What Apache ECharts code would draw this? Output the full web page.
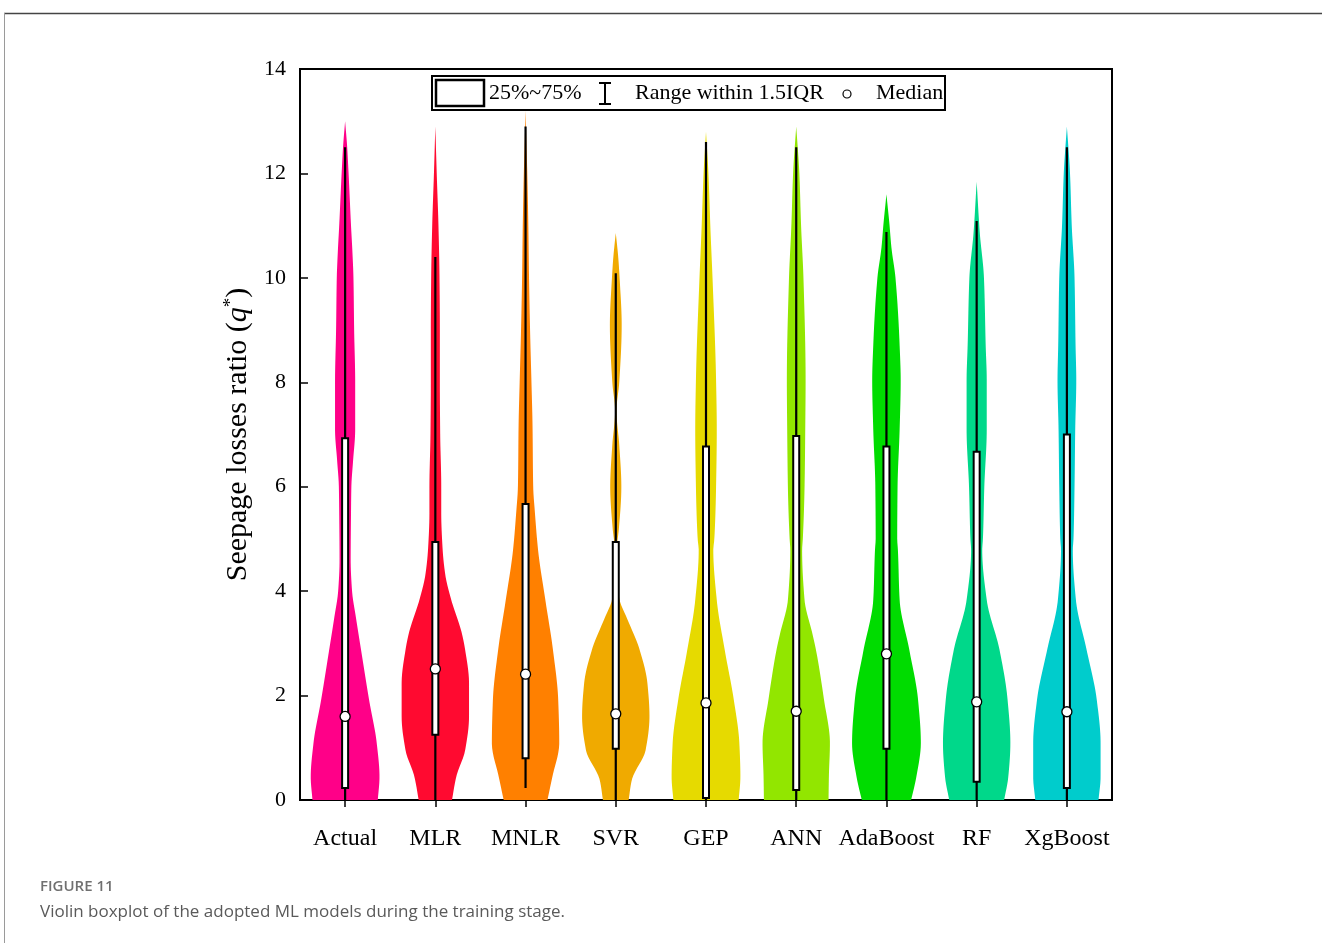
<!DOCTYPE html>
<html>
<head>
<meta charset="utf-8">
<script src="https://cdn.jsdelivr.net/npm/echarts@6/dist/echarts.min.js"></script>
<style>
  html, body { margin: 0; padding: 0; background: #fff; }
  #chart { width: 1322px; height: 943px; }
</style>
</head>
<body>
<div id="chart"></div>
<script>
// ---------- data ----------
const categories = ['Actual', 'MLR', 'MNLR', 'SVR', 'GEP', 'ANN', 'AdaBoost', 'RF', 'XgBoost'];
const yTicks = [0, 2, 4, 6, 8, 10, 12, 14];

// box statistics
const whiskerLow  = [0,    0,    0.23, 0,    0,    0,    0,    0,    0];
const q1          = [0.23, 1.25, 0.80, 0.98, 0.04, 0.19, 0.98, 0.35, 0.23];
const median      = [1.60, 2.51, 2.41, 1.65, 1.86, 1.70, 2.80, 1.88, 1.69];
const q3          = [6.93, 4.94, 5.67, 4.94, 6.77, 6.97, 6.77, 6.67, 7.00];
const whiskerHigh = [12.5, 10.4, 12.9, 10.09, 12.6, 12.5, 10.88, 11.09, 12.5];

// kernel density profiles: [value, relative density]
const densActual = [[0,0.94],[0.44,0.99],[1.09,0.91],[1.92,0.69],[2.87,0.46],[3.5,0.31],[4.0,0.2],[4.6,0.16],[5.5,0.17],[6.0,0.18],[6.5,0.23],[7.1,0.29],[8.0,0.29],[9.0,0.26],[10.0,0.24],[10.5,0.21],[11,0.17],[12,0.1],[12.5,0.06],[13.0,0]];
const densMLR = [[0,0.48],[0.44,0.6],[0.96,0.86],[1.6,0.97],[2.24,0.97],[2.87,0.86],[3.2,0.76],[3.83,0.46],[4.3,0.29],[4.8,0.21],[5.5,0.17],[6.0,0.17],[7.0,0.14],[8.0,0.13],[9.0,0.13],[10.0,0.12],[11,0.09],[12,0.04],[12.9,0]];
const densMNLR = [[0,0.63],[0.44,0.77],[1.09,0.97],[1.92,0.94],[2.87,0.79],[3.83,0.57],[4.79,0.36],[5.5,0.27],[6.0,0.22],[7.2,0.2],[8.0,0.17],[9.0,0.13],[10.0,0.1],[11.0,0.08],[12.0,0.05],[12.7,0.02],[13.2,0]];
const densSVR = [[0,0.37],[0.38,0.46],[0.96,0.86],[1.6,0.97],[2.24,0.91],[2.87,0.69],[3.5,0.31],[3.83,0.11],[4.2,0.04],[4.5,0.015],[4.9,0.04],[5.2,0.09],[6.0,0.16],[6.8,0.1],[7.45,0.02],[8.0,0.1],[9.1,0.17],[10.0,0.11],[10.4,0.07],[10.86,0]];
const densGEP = [[0,0.94],[0.44,0.99],[1.09,0.96],[1.92,0.8],[2.87,0.54],[3.83,0.31],[4.79,0.21],[5.0,0.24],[6.0,0.29],[7.1,0.31],[8.04,0.29],[9.96,0.19],[10.9,0.13],[12,0.07],[12.8,0]];
const densANN = [[0,0.93],[0.44,0.94],[1.09,0.97],[1.92,0.8],[2.87,0.57],[3.2,0.46],[3.83,0.24],[4.79,0.17],[5.0,0.19],[6.0,0.24],[7.1,0.26],[8.04,0.27],[9.96,0.21],[11,0.14],[12,0.09],[12.9,0]];
const densAdaBoost = [[0,0.71],[0.44,0.86],[1.09,0.99],[1.92,0.91],[2.87,0.66],[3.83,0.38],[4.79,0.33],[5.0,0.31],[6.0,0.32],[7.1,0.38],[8.04,0.41],[8.7,0.38],[10.0,0.26],[10.6,0.14],[11.0,0.09],[11.6,0]];
const densRF = [[0,0.79],[0.44,0.91],[1.09,0.97],[1.92,0.89],[2.87,0.66],[3.83,0.29],[4.79,0.16],[5.0,0.18],[6.0,0.22],[7.1,0.29],[8.04,0.29],[8.7,0.26],[10.0,0.21],[10.86,0.09],[11.84,0]];
const densXgBoost = [[0,0.91],[0.44,0.97],[1.09,0.97],[1.92,0.86],[2.87,0.57],[3.83,0.26],[4.79,0.17],[5.0,0.19],[6.0,0.22],[7.1,0.24],[8.04,0.27],[8.7,0.25],[10.0,0.22],[11,0.14],[12,0.09],[12.9,0]];

const violinDensity = [densActual, densMLR, densMNLR, densSVR, densGEP, densANN, densAdaBoost, densRF, densXgBoost];
const violinColors = ['#FF0088', '#FF0A30', '#FF8000', '#F0AA00', '#E6DA00', '#92E600', '#00DC00', '#00D88A', '#00CCCC'];

// ---------- rendering helpers ----------
// monotone cubic (Fritsch-Carlson) evaluator for drawing a smooth outline through the read points
function monotoneCurve(xs, ys) {
  const n = xs.length;
  const dx = [], m = [];
  for (let k = 0; k < n - 1; k++) { dx.push(xs[k + 1] - xs[k]); m.push((ys[k + 1] - ys[k]) / dx[k]); }
  const t = new Array(n);
  t[0] = m[0]; t[n - 1] = m[n - 2];
  for (let k = 1; k < n - 1; k++) {
    if (m[k - 1] * m[k] <= 0) t[k] = 0;
    else {
      const w1 = 2 * dx[k] + dx[k - 1], w2 = dx[k] + 2 * dx[k - 1];
      t[k] = (w1 + w2) / (w1 / m[k - 1] + w2 / m[k]);
    }
  }
  return function (x) {
    let k = 0;
    while (k < n - 2 && x > xs[k + 1]) k++;
    const h = dx[k], s = (x - xs[k]) / h;
    const h00 = 2 * s * s * s - 3 * s * s + 1, h10 = s * s * s - 2 * s * s + s;
    const h01 = -2 * s * s * s + 3 * s * s, h11 = s * s * s - s * s;
    return h00 * ys[k] + h10 * h * t[k] + h01 * ys[k + 1] + h11 * h * t[k + 1];
  };
}

// ---------- chart ----------
const serif = 'Liberation Serif';
const chart = echarts.init(document.getElementById('chart'), null, { renderer: 'canvas' });

function renderViolin(params, api) {
  const i = params.dataIndex;
  const dens = violinDensity[i];
  const band = api.size([1, 0])[0];
  const maxHalf = band * 0.385;
  const vs = dens.map(p => p[0]), ds = dens.map(p => p[1]);
  const f = monotoneCurve(vs, ds);
  const vMin = vs[0], vMax = vs[vs.length - 1];
  const steps = 160;
  const right = [], left = [];
  for (let s = 0; s <= steps; s++) {
    const v = vMin + (vMax - vMin) * s / steps;
    const d = Math.max(0, f(v));
    const p = api.coord([i, v]);
    right.push([p[0] + d * maxHalf, p[1]]);
    left.unshift([p[0] - d * maxHalf, p[1]]);
  }
  const pts = right.concat(left);

  const cx = api.coord([i, 0])[0];
  const yLo = api.coord([i, whiskerLow[i]])[1];
  const yHi = api.coord([i, whiskerHigh[i]])[1];
  const yQ1 = api.coord([i, q1[i]])[1];
  const yQ3 = api.coord([i, q3[i]])[1];
  const yMed = api.coord([i, median[i]])[1];

  return {
    type: 'group',
    children: [
      {
        type: 'polygon',
        shape: { points: pts },
        style: { fill: violinColors[i], stroke: null }
      },
      {
        type: 'line',
        shape: { x1: cx, y1: yLo, x2: cx, y2: yHi },
        style: { stroke: '#000', lineWidth: 2.2 }
      },
      {
        type: 'rect',
        shape: { x: cx - 3, y: yQ3, width: 6, height: yQ1 - yQ3 },
        style: { fill: '#fff', stroke: '#000', lineWidth: 2 }
      },
      {
        type: 'circle',
        shape: { cx: cx, cy: yMed, r: 5 },
        style: { fill: '#fff', stroke: '#000', lineWidth: 1.3 }
      }
    ]
  };
}

const option = {
  backgroundColor: '#fff',
  animation: false,
  grid: {
    left: 300, right: 210, top: 69, bottom: 143,
    show: true, borderColor: '#000', borderWidth: 2, backgroundColor: 'transparent'
  },
  xAxis: {
    type: 'category',
    data: categories,
    boundaryGap: true,
    axisLine: { lineStyle: { color: '#000', width: 2 } },
    axisTick: { show: true, alignWithLabel: true, inside: false, length: 7, lineStyle: { color: '#000', width: 1.5 } },
    axisLabel: { color: '#000', fontFamily: serif, fontSize: 24, margin: 27, interval: 0 },
    splitLine: { show: false }
  },
  yAxis: {
    type: 'value',
    min: 0, max: 14, interval: 2,
    axisLine: { show: true, lineStyle: { color: '#000', width: 2 } },
    axisTick: { show: true, inside: true, length: 8, lineStyle: { color: '#000', width: 1.5 } },
    axisLabel: {
      color: '#000', fontFamily: serif, fontSize: 22, margin: 14,
      formatter: v => (yTicks.indexOf(v) >= 0 ? String(v) : '')
    },
    splitLine: { show: false },
    name: '{a|Seepage losses ratio (}{q|q}{s|*}{a|)}',
    nameLocation: 'middle',
    nameGap: 43,
    nameRotate: 90,
    nameTextStyle: {
      color: '#000',
      rich: {
        a: { fontFamily: serif, fontSize: 30, color: '#000', lineHeight: 34 },
        q: { fontFamily: serif, fontSize: 30, fontStyle: 'italic', color: '#000', lineHeight: 34 },
        s: { fontFamily: serif, fontSize: 19, color: '#000', lineHeight: 34, verticalAlign: 'top' }
      }
    }
  },
  series: [{
    type: 'custom',
    name: 'violin',
    renderItem: renderViolin,
    clip: true,
    encode: { x: 0, y: 1 },
    data: categories.map((c, i) => [i, median[i]]),
    z: 2
  }],
  graphic: {
    elements: [
      // page frame
      { type: 'line', shape: { x1: 4, y1: 13.5, x2: 1322, y2: 13.5 }, style: { stroke: '#444', lineWidth: 1.5 }, silent: true },
      { type: 'line', shape: { x1: 4.5, y1: 13, x2: 4.5, y2: 943 }, style: { stroke: '#9a9a9a', lineWidth: 1 }, silent: true },
      // legend
      { type: 'rect', z: 10, shape: { x: 432, y: 76, width: 513, height: 34 }, style: { fill: '#fff', stroke: '#000', lineWidth: 2 } },
      { type: 'rect', z: 11, shape: { x: 436, y: 80, width: 48, height: 26 }, style: { fill: '#fff', stroke: '#000', lineWidth: 2.5 } },
      { type: 'text', z: 11, x: 489, y: 93, style: { text: '25%~75%', fontFamily: serif, fontSize: 22, fill: '#000', verticalAlign: 'middle', align: 'left' } },
      { type: 'line', z: 11, shape: { x1: 605, y1: 83, x2: 605, y2: 104 }, style: { stroke: '#000', lineWidth: 2 } },
      { type: 'line', z: 11, shape: { x1: 599, y1: 83, x2: 611, y2: 83 }, style: { stroke: '#000', lineWidth: 2 } },
      { type: 'line', z: 11, shape: { x1: 599, y1: 104, x2: 611, y2: 104 }, style: { stroke: '#000', lineWidth: 2 } },
      { type: 'text', z: 11, x: 635, y: 93, style: { text: 'Range within 1.5IQR', fontFamily: serif, fontSize: 22, fill: '#000', verticalAlign: 'middle', align: 'left' } },
      { type: 'circle', z: 11, shape: { cx: 847, cy: 94, r: 4 }, style: { fill: '#fff', stroke: '#000', lineWidth: 1.2 } },
      { type: 'text', z: 11, x: 876, y: 93, style: { text: 'Median', fontFamily: serif, fontSize: 22, fill: '#000', verticalAlign: 'middle', align: 'left' } },
      // caption
      { type: 'text', x: 40, y: 887, style: { text: 'FIGURE 11', fontFamily: 'Open Sans', fontSize: 15, fontWeight: 600, fill: '#707070', verticalAlign: 'middle' } },
      { type: 'text', x: 40, y: 912, style: { text: 'Violin boxplot of the adopted ML models during the training stage.', fontFamily: 'Open Sans', fontSize: 17, fill: '#5a5a5a', verticalAlign: 'middle' } }
    ]
  }
};

chart.setOption(option);
</script>
</body>
</html>
